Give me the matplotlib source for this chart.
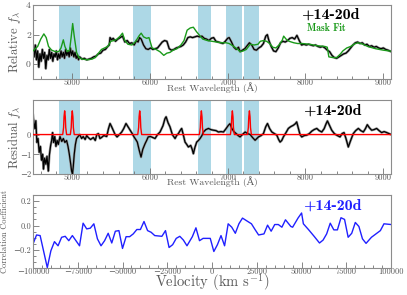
import matplotlib
matplotlib.use("Agg")
import matplotlib.pyplot as plt
from matplotlib.ticker import MultipleLocator

plt.rcParams['font.family'] = ['cmr10', 'DejaVu Serif']
plt.rcParams['mathtext.fontset'] = 'cm'
plt.rcParams['axes.formatter.use_mathtext'] = False
plt.rcParams['axes.unicode_minus'] = True

# observed spectrum (relative flux)
spec_wave = [4500, 4515, 4530, 4545, 4560, 4575, 4590, 4605, 4620, 4635, 4650, 4665, 4680, 4695,
             4710, 4725, 4740, 4755, 4770, 4785, 4800, 4815, 4830, 4845, 4860, 4875, 4890, 4905,
             4920, 4935, 4950, 4965, 4980, 4995, 5010, 5025, 5040, 5055, 5070, 5085, 5100,
             5130, 5160, 5190, 5220, 5250, 5280, 5310, 5340, 5370, 5400, 5430, 5460, 5480, 5490,
             5510, 5530, 5560, 5590, 5620, 5650, 5680, 5710, 5740, 5770, 5800, 5830, 5850, 5870,
             5890, 5920, 5950, 5980, 6010, 6040, 6070, 6100, 6130, 6160, 6190, 6220, 6250, 6280,
             6310, 6340, 6370, 6400, 6430, 6460, 6490, 6520, 6550, 6580, 6610, 6640, 6670, 6700,
             6730, 6760, 6790, 6820, 6850, 6880, 6910, 6940, 6970, 7000, 7020, 7050, 7080, 7110,
             7140, 7160, 7190, 7220, 7250, 7280, 7310, 7340, 7370, 7400, 7430, 7460, 7490, 7510,
             7530, 7560, 7590, 7620, 7650, 7680, 7710, 7740, 7770, 7800, 7830, 7860, 7890, 7920,
             7950, 7980, 8010, 8040, 8070, 8100, 8130, 8160, 8190, 8220, 8250, 8280, 8310, 8340,
             8370, 8400, 8430, 8460, 8490, 8520, 8550, 8580, 8610, 8640, 8670, 8700, 8730, 8760,
             8790, 8820, 8850, 8880, 8910, 8940, 8970, 9000, 9030, 9060, 9100]
spec_flux = [1.0, 0.5, 1.3, 0.3, 0.9, -0.2, 0.7, 0.2, 1.0, 0.4, 0.8, -0.3, 0.6, 0.3,
             1.0, 0.4, 0.8, 0.2, 0.7, 0.5, 0.9, 0.3, 0.7, 0.4, 0.9, 0.5, 0.8, 0.4,
             1.0, 0.6, 0.9, 0.5, 1.1, 0.6, 0.9, 0.5, 0.8, 0.4, 0.6, 0.3, 0.5,
             0.35, 0.4, 0.3, 0.35, 0.4, 0.5, 0.55, 0.7, 0.75, 0.95, 1.0, 1.2, 1.3, 1.8,
             1.65, 1.75, 1.55, 1.7, 1.8, 1.9, 1.5, 1.6, 1.4, 1.45, 1.3, 1.6, 1.5, 1.8,
             1.7, 1.3, 1.05, 1.0, 1.1, 1.0, 1.05, 1.1, 1.3, 1.5, 1.6, 1.55, 1.05, 0.95,
             1.0, 1.1, 1.15, 1.2, 1.3, 1.5, 1.8, 1.85, 1.8, 1.85, 1.9, 1.85, 1.9, 1.75,
             1.7, 1.6, 1.75, 1.8, 1.55, 1.5, 1.45, 1.4, 1.55, 1.75, 1.8, 1.5, 1.15, 1.0,
             1.15, 0.85, 0.95, 1.05, 1.25, 1.45, 1.3, 1.0, 0.95, 1.1, 1.2, 1.4, 1.9, 2.0,
             1.6, 1.2, 0.9, 0.85, 1.1, 1.45, 1.55, 1.5, 1.6, 1.75, 1.8, 1.7, 1.95, 1.6,
             1.3, 1.35, 1.3, 1.35, 1.3, 1.25, 1.3, 1.2, 1.15, 1.2, 1.1, 0.95, 0.85, 0.6,
             0.45, 0.4, 0.5, 0.6, 0.7, 0.75, 0.9, 1.1, 1.3, 1.45, 1.5, 1.4, 1.45, 1.3,
             1.35, 1.2, 1.25, 1.15, 1.2, 1.1, 1.05, 1.1, 1.0, 0.95, 0.85]

# masked template fit
fit_wave = [4500, 4560, 4600, 4640, 4670, 4700, 4740, 4790, 4830, 4860, 4890, 4910, 4940, 4970,
            4990, 5010, 5030, 5060, 5090, 5130, 5200, 5260, 5300, 5350, 5380, 5420, 5460, 5500,
            5540, 5580, 5620, 5650, 5680, 5720, 5770, 5820, 5860, 5890, 5920, 5960, 5990, 6030,
            6080, 6130, 6180, 6220, 6260, 6300, 6350, 6400, 6440, 6480, 6520, 6560, 6600, 6640,
            6680, 6740, 6800, 6860, 6920, 6980, 7020, 7080, 7130, 7160, 7200, 7240, 7290, 7340,
            7390, 7420, 7460, 7500, 7540, 7580, 7620, 7660, 7700, 7720, 7750, 7790, 7850, 7900,
            7960, 8050, 8150, 8250, 8280, 8300, 8350, 8400, 8450, 8480, 8530, 8580, 8640, 8680,
            8740, 8800, 8900, 9000, 9100]
fit_flux = [0.9, 1.2, 1.7, 2.05, 1.8, 1.2, 0.95, 0.85, 0.85, 1.1, 1.65, 1.2, 0.85, 0.95,
            1.8, 2.75, 1.9, 0.8, 0.45, 0.35, 0.3, 0.35, 0.45, 0.8, 1.0, 1.1, 1.2, 1.55,
            1.6, 1.7, 1.9, 2.1, 1.6, 1.35, 1.3, 1.55, 1.9, 2.1, 1.85, 1.75, 1.8, 1.1,
            1.0, 0.85, 0.6, 0.75, 0.8, 0.95, 1.05, 1.3, 1.6, 2.3, 2.45, 2.5, 2.2, 1.95,
            1.7, 1.6, 1.55, 1.5, 1.45, 1.45, 1.4, 1.2, 1.0, 0.85, 0.9, 1.0, 1.35, 1.3,
            1.35, 1.55, 1.6, 1.55, 1.4, 1.15, 1.1, 1.3, 1.6, 1.9, 1.7, 1.55, 1.45, 1.4,
            1.4, 1.35, 1.25, 1.2, 1.15, 0.5, 0.45, 0.45, 0.7, 0.9, 1.1, 1.2, 1.4, 1.45,
            1.35, 1.2, 1.05, 0.95, 0.88]

# residual spectrum
res_wave = [4500, 4512, 4525, 4537, 4550, 4565, 4580, 4595, 4610, 4625, 4635, 4650, 4666, 4680,
            4697, 4712, 4727, 4740, 4752, 4765, 4780, 4795, 4810, 4825, 4847, 4870, 4890, 4910,
            4932, 4950, 4966, 4985, 4996, 5008, 5018, 5030, 5045, 5060, 5080, 5100, 5125, 5145,
            5170, 5190, 5210, 5240, 5275, 5300, 5320, 5340, 5360, 5380, 5410, 5447, 5470, 5490,
            5510, 5530, 5555, 5580, 5610, 5640, 5665, 5695, 5720, 5747, 5775, 5798, 5820, 5840,
            5865, 5888, 5910, 5940, 5960, 5980, 6010, 6040, 6068, 6100, 6132, 6170, 6195, 6210,
            6235, 6260, 6290, 6325, 6345, 6368, 6390, 6410, 6430, 6453, 6475, 6496, 6526, 6545,
            6560, 6580, 6603, 6625, 6646, 6670, 6690, 6720, 6754, 6785, 6818, 6850, 6882, 6915,
            6947, 6980, 7010, 7030, 7054, 7080, 7110, 7135, 7160, 7190, 7225, 7255, 7290, 7320,
            7353, 7375, 7396, 7430, 7460, 7490, 7512, 7540, 7568, 7600, 7632, 7655, 7674, 7695,
            7716, 7750, 7780, 7810, 7844, 7870, 7887, 7910, 7930, 7952, 7985, 8016, 8050, 8080,
            8110, 8145, 8175, 8209, 8240, 8265, 8282, 8310, 8337, 8370, 8400, 8444, 8470, 8495,
            8520, 8550, 8580, 8614, 8645, 8679, 8710, 8743, 8770, 8794, 8820, 8850, 8880, 8914,
            8945, 8978, 9010, 9043, 9070, 9100]
res_flux = [1.0, 0.6, 0.3, 0.7, -0.4, -0.2, -0.9, -0.6, -1.3, -1.0, -1.75, -1.2, -1.5, -1.1,
            -1.85, -1.0, -0.55, -0.3, 0.1, -0.4, -0.1, -0.6, -0.3, -0.5, -0.1, -0.35, -0.2, -0.4,
            -0.3, -0.6, -0.97, -1.5, -1.85, -2.0, -1.6, -1.0, -0.5, -0.2, -0.1, 0.0, -0.2, -0.1,
            -0.25, -0.05, -0.15, -0.25, -0.15, -0.3, 0.0, 0.05, -0.2, -0.15, -0.05, -0.1, 0.3, 0.56,
            0.4, 0.22, 0.0, -0.12, 0.0, 0.13, 0.3, 0.56, 0.4, 0.22, 0.05, -0.12, -0.25, -0.38,
            -0.8, -1.14, -0.75, -0.46, -0.3, -0.12, -0.1, -0.15, -0.2, 0.0, 0.13, 0.45, 0.8, 0.9,
            0.6, 0.39, 0.0, -0.2, -0.05, 0.05, 0.2, 0.31, 0.0, -0.38, -0.5, -0.63, -0.55, -0.75,
            -0.97, -0.65, -0.38, -0.3, -0.2, -0.05, 0.13, 0.25, 0.31, 0.25, 0.22, 0.2, 0.13, 0.15,
            0.13, 0.3, 0.47, 0.55, 0.31, 0.15, 0.05, -0.05, -0.12, 0.0, 0.13, 0.05, 0.0, -0.15,
            -0.29, -0.2, -0.12, -0.05, 0.05, 0.4, 0.56, 0.3, 0.13, 0.05, -0.03, -0.25, -0.38, -0.3,
            -0.12, 0.1, 0.31, 0.4, 0.47, 0.55, 0.64, 0.3, 0.0, -0.12, -0.05, -0.03, 0.05, 0.17,
            0.25, 0.31, 0.2, 0.13, 0.3, 0.55, 0.69, 0.45, 0.22, 0.05, -0.03, -0.12, 0.05, 0.1,
            -0.2, -0.63, -0.3, 0.05, 0.2, 0.31, 0.2, 0.13, 0.3, 0.5, 0.35, 0.22, 0.25, 0.31,
            0.2, 0.1, 0.15, 0.1, 0.05, 0.0]

# line model fitted to the residual
model_wave = [4500, 4882, 4893, 4899, 4907, 4915, 4921, 4932, 4980, 4991, 4997, 5005, 5013, 5019,
              5030, 5846, 5857, 5863, 5871, 5879, 5885, 5896, 6638, 6649, 6655, 6663, 6671, 6677,
              6688, 7036, 7047, 7053, 7061, 7069, 7075, 7086, 7255, 7266, 7272, 7280, 7288, 7294,
              7305, 9100]
model_flux = [0.0, 0.0, 0.35, 0.9, 1.2, 0.9, 0.35, 0.0, 0.0, 0.35, 0.9, 1.2, 0.9, 0.35,
              0.0, 0.0, 0.35, 0.9, 1.2, 0.9, 0.35, 0.0, 0.0, 0.35, 0.9, 1.2, 0.9, 0.35,
              0.0, 0.0, 0.35, 0.9, 1.2, 0.9, 0.35, 0.0, 0.0, 0.35, 0.9, 1.2, 0.9, 0.35,
              0.0, 0.0]

# masked wavelength windows
mask_lo = [4840, 5780, 6620, 6980, 7210]
mask_hi = [5110, 6010, 6790, 7180, 7400]

# cross-correlation
velocity = [-100000, -98000, -96000, -92000, -90000, -88000, -86000, -84000, -82000, -80000,
            -78000, -74000, -72000, -70000, -68000, -66000, -64000, -62000, -60000, -58000,
            -56000, -54000, -52000, -50000, -48000, -46000, -44000, -42000, -40000, -38000,
            -36000, -34000, -32000, -28000, -26000, -24000, -22000, -20000, -18000, -16000,
            -14000, -11000, -9000, -7000, -5000, -1000, 1000, 3000, 5000, 7000,
            9000, 11000, 13000, 15000, 17000, 19000, 22000, 24000, 26000, 29000,
            31000, 33000, 35000, 37000, 39000, 41000, 44000, 45000, 48000, 50000,
            51000, 54000, 57000, 60000, 62000, 64000, 66000, 68000, 70000, 72000,
            74000, 76000, 78000, 80000, 82000, 84000, 86000, 89000, 91000, 94000,
            96000, 100000]
corr = [-0.153, -0.078, -0.083, -0.347, -0.208, -0.133, -0.167, -0.097, -0.089, -0.125,
        -0.083, -0.167, 0.019, -0.028, -0.022, 0.014, -0.11, -0.167, -0.125, -0.064,
        -0.144, -0.047, -0.042, -0.189, -0.092, -0.092, -0.069, -0.033, -0.033, 0.033,
        -0.042, -0.056, -0.083, -0.089, -0.042, -0.181, -0.158, -0.106, -0.089, -0.12,
        -0.167, -0.092, -0.019, -0.125, -0.106, -0.106, -0.214, -0.158, -0.083, -0.167,
        0.014, -0.014, -0.064, 0.014, 0.061, 0.042, 0.014, -0.033, -0.078, -0.069,
        0.003, -0.047, 0.008, 0.008, -0.014, 0.047, -0.008, -0.014, 0.061, 0.103,
        0.014, -0.036, -0.089, -0.144, -0.12, -0.069, 0.019, -0.036, -0.036, 0.064,
        0.05, -0.097, -0.064, 0.025, -0.008, -0.11, -0.147, -0.097, -0.075, -0.042,
        0.014, 0.008]

epoch = '+14-20d'
grey = '0.35'


def style_axis(ax, ylab_x, xlab_y):
    for s in ax.spines.values():
        s.set_color('0.55')
        s.set_linewidth(0.8)
    ax.tick_params(which='both', direction='in', colors='0.45', labelcolor=grey,
                   labelsize=6, width=0.6, top=False, right=False)
    ax.tick_params(which='major', length=4)
    ax.tick_params(which='minor', length=2)
    ax.tick_params(axis='x', pad=-0.5)
    ax.tick_params(axis='y', pad=1.5)
    ax.yaxis.set_label_coords(ylab_x, 0.5)
    ax.yaxis.label.set_va('center')
    ax.xaxis.set_label_coords(0.5, xlab_y)
    ax.xaxis.label.set_va('center')
    ax.patch.set_alpha(0)


fig = plt.figure(figsize=(4.07, 2.95), dpi=100)
ax1 = fig.add_axes([0.081, 0.732, 0.880, 0.251])
ax2 = fig.add_axes([0.081, 0.410, 0.880, 0.251])
ax3 = fig.add_axes([0.081, 0.0915, 0.880, 0.247])

# top: spectrum and mask fit
for lo, hi in zip(mask_lo, mask_hi):
    ax1.axvspan(lo, hi, color='lightblue', lw=0, zorder=0)
ax1.plot(spec_wave, spec_flux, color='0.6', lw=1.8, zorder=1)
ax1.plot(spec_wave, spec_flux, color='black', lw=0.9, zorder=2)
ax1.plot(fit_wave, fit_flux, color='#1a9a1a', lw=1.0, zorder=3)
ax1.set_xlim(4500, 9100)
ax1.set_ylim(-1, 4)
ax1.yaxis.set_major_locator(MultipleLocator(2))
ax1.yaxis.set_minor_locator(MultipleLocator(1))
ax1.xaxis.set_major_locator(MultipleLocator(1000))
ax1.xaxis.set_minor_locator(MultipleLocator(200))
ax1.set_ylabel(r'Relative $f_\lambda$', fontsize=9, color=grey)
ax1.set_xlabel('Rest Wavelength (Å)', fontsize=7, color=grey)
ax1.text(0.83, 0.87, epoch, transform=ax1.transAxes, ha='center', va='center',
         fontsize=11.5, family='cmb10', color='black')
ax1.text(0.82, 0.69, 'Mask Fit', transform=ax1.transAxes, ha='center', va='center',
         fontsize=7, family='cmb10', color='#1a9a1a')
style_axis(ax1, -0.052, -0.115)
ax1.tick_params(axis='y', labelsize=7)

# middle: residual and line model
for lo, hi in zip(mask_lo, mask_hi):
    ax2.axvspan(lo, hi, color='lightblue', lw=0, zorder=0)
ax2.plot(res_wave, res_flux, color='0.6', lw=1.8, zorder=1)
ax2.plot(res_wave, res_flux, color='black', lw=0.9, zorder=2)
ax2.plot(model_wave, model_flux, color='red', lw=1.0, zorder=3)
ax2.set_xlim(4500, 9100)
ax2.set_ylim(-2, 1.75)
ax2.set_yticks([-2, -1, 0])
ax2.xaxis.set_major_locator(MultipleLocator(1000))
ax2.xaxis.set_minor_locator(MultipleLocator(200))
ax2.set_ylabel(r'Residual $f_\lambda$', fontsize=9, color=grey)
ax2.set_xlabel('Rest Wavelength (Å)', fontsize=7, color=grey)
ax2.text(0.835, 0.85, epoch, transform=ax2.transAxes, ha='center', va='center',
         fontsize=11.5, family='cmb10', color='black')
style_axis(ax2, -0.052, -0.108)

# bottom: correlation vs velocity
ax3.plot(velocity, corr, color='#2020ff', lw=1.0)
ax3.set_xlim(-100000, 100000)
ax3.set_ylim(-0.35, 0.25)
ax3.yaxis.set_major_locator(MultipleLocator(0.2))
ax3.yaxis.set_minor_locator(MultipleLocator(0.05))
ax3.xaxis.set_major_locator(MultipleLocator(25000))
ax3.xaxis.set_minor_locator(MultipleLocator(5000))
ax3.set_ylabel('Correlation Coefficient', fontsize=6, color=grey)
ax3.set_xlabel(r'Velocity (km s$^{-1}$)', fontsize=10.5, color=grey)
ax3.text(0.835, 0.85, epoch, transform=ax3.transAxes, ha='center', va='center',
         fontsize=11.5, family='cmb10', color='#2020ff')
style_axis(ax3, -0.078, -0.197)

fig.savefig('out.png', dpi=100)
